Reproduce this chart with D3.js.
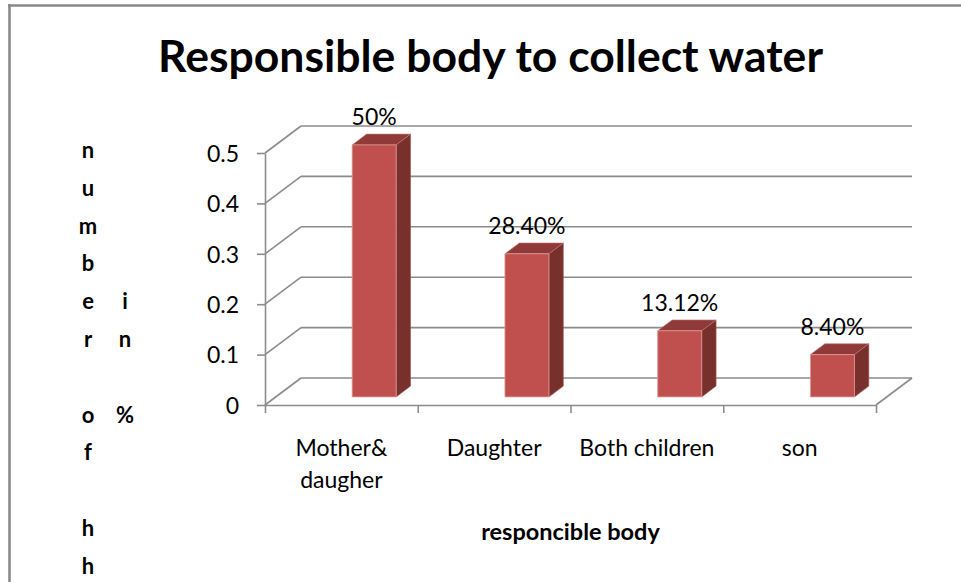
<!DOCTYPE html>
<html>
<head>
<meta charset="utf-8">
<script src="https://cdn.jsdelivr.net/npm/d3@7"></script>
<style>
  html, body { margin: 0; padding: 0; background: #fff; }
  svg { display: block; font-family: Lato, "Open Sans", sans-serif; }
</style>
</head>
<body>
<svg id="chart" width="961" height="582"></svg>
<script>
// ---- data ----
const categories = ["Mother&\ndaugher", "Daughter", "Both children", "son"];
const values = [0.5, 0.284, 0.1312, 0.084];
const valueLabels = ["50%", "28.40%", "13.12%", "8.40%"];
const yTicks = [0, 0.1, 0.2, 0.3, 0.4, 0.5];
const yTickLabels = ["0", "0.1", "0.2", "0.3", "0.4", "0.5"];
const titleText = "Responsible body to collect water";
const xTitleText = "responcible body";
const yTitleCol1 = "number of hh";
const yTitleCol2 = "in %";

// ---- layout ----
const svg = d3.select("#chart");
const X0 = 265, X1 = 876;           // front edge of the floor
const Y0 = 405, Ytop = 153;         // front plane: value 0 and 0.5
const DX = 36, DY = -27;            // depth offset to the back wall
const Z_FRONT = 0.3, Z_BACK = 0.7;  // depth span occupied by the columns
const gridColor = "#8c8c8c";

const x = d3.scaleBand().domain(categories).range([X0, X1]);
const xEdge = d3.scaleLinear().domain([0, categories.length]).range([X0, X1]);
const y = d3.scaleLinear().domain([0, 0.5]).range([Y0, Ytop]);
const proj = (xa, v, z) => [xa + z * DX, y(v) + z * DY];

// chart frame
svg.append("line").attr("x1", 9.5).attr("x2", 9.5).attr("y1", 4).attr("y2", 582)
  .attr("stroke", "#8a8a8a").attr("stroke-width", 2.6);
svg.append("line").attr("x1", 8).attr("x2", 961).attr("y1", 5.5).attr("y2", 5.5)
  .attr("stroke", "#8a8a8a").attr("stroke-width", 2.6);

// title, sized to span its box
const title = svg.append("text")
  .attr("x", 490.5).attr("y", 72).attr("text-anchor", "middle")
  .attr("font-weight", 700).attr("font-size", 40).attr("fill", "#000")
  .text(titleText);
const tl = title.node().getComputedTextLength();
title.attr("font-size", 40 * 665 / tl);

// ---- walls and floor ----
const grid = svg.append("g").attr("fill", "none").attr("stroke", gridColor).attr("stroke-width", 1.6);
// back wall gridlines
grid.selectAll("line.back").data(yTicks).join("line").attr("class", "back")
  .attr("x1", d => proj(X0, d, 1)[0]).attr("y1", d => proj(X0, d, 1)[1])
  .attr("x2", d => proj(X1, d, 1)[0]).attr("y2", d => proj(X1, d, 1)[1]);
// side wall gridlines
grid.selectAll("line.side").data(yTicks).join("line").attr("class", "side")
  .attr("x1", d => proj(X0, d, 0)[0]).attr("y1", d => proj(X0, d, 0)[1])
  .attr("x2", d => proj(X0, d, 1)[0]).attr("y2", d => proj(X0, d, 1)[1]);
// floor right edge
grid.append("line")
  .attr("x1", proj(X1, 0, 0)[0]).attr("y1", proj(X1, 0, 0)[1])
  .attr("x2", proj(X1, 0, 1)[0]).attr("y2", proj(X1, 0, 1)[1]);

// ---- axes ----
const labelSize = 23;
const yAxis = svg.append("g").attr("transform", `translate(${X0},0)`)
  .call(d3.axisLeft(y).tickValues(yTicks).tickFormat((d, i) => yTickLabels[i])
    .tickSize(8).tickSizeOuter(0).tickPadding(18));
yAxis.select(".domain").attr("stroke", gridColor).attr("stroke-width", 1.6);
yAxis.selectAll(".tick line").attr("stroke", gridColor).attr("stroke-width", 1.6);
yAxis.selectAll(".tick text").attr("font-size", labelSize).attr("fill", "#000")
  .attr("font-family", "Lato, sans-serif").attr("dy", "0.36em");

const xAxis = svg.append("g").attr("transform", `translate(0,${Y0})`)
  .call(d3.axisBottom(xEdge).tickValues(d3.range(categories.length + 1))
    .tickFormat("").tickSize(8).tickSizeOuter(0));
xAxis.select(".domain").attr("stroke", gridColor).attr("stroke-width", 1.6);
xAxis.selectAll(".tick line").attr("stroke", gridColor).attr("stroke-width", 1.6);

// category labels
const cat = svg.append("g").attr("font-size", labelSize).attr("fill", "#000").attr("text-anchor", "middle");
categories.forEach(c => {
  const t = cat.append("text").attr("x", x(c) + x.bandwidth() / 2).attr("y", 456);
  c.split("\n").forEach((line, i) => {
    t.append("tspan").attr("x", x(c) + x.bandwidth() / 2).attr("dy", i === 0 ? 0 : 32).text(line);
  });
});

// axis titles
svg.append("text").attr("x", (X0 + X1) / 2).attr("y", 540).attr("text-anchor", "middle")
  .attr("font-weight", 700).attr("font-size", 23.5).text(xTitleText);

const rowStep = 37.8, rowBase = 158;
const col1 = Array.from(yTitleCol1);
const col2 = Array.from(yTitleCol2);
const col2Start = Math.floor((col1.length - col2.length) / 2);
const yt = svg.append("g").attr("font-weight", 700).attr("font-size", 22).attr("text-anchor", "middle");
yt.selectAll("text.c1").data(col1).join("text").attr("class", "c1")
  .attr("x", 88).attr("y", (d, i) => rowBase + i * rowStep).text(d => d);
yt.selectAll("text.c2").data(col2).join("text").attr("class", "c2")
  .attr("x", 125).attr("y", (d, i) => rowBase + (i + col2Start) * rowStep).text(d => d);

// ---- columns ----
const barFrac = 44 / x.bandwidth();
const bars = svg.append("g");
categories.forEach((c, i) => {
  const v = values[i];
  const xl = x(c) + x.bandwidth() / 2;
  const xr = xl + x.bandwidth() * barFrac;
  const pts = (arr) => arr.map(p => p.join(",")).join(" ");
  const fBL = proj(xl, 0, Z_FRONT), fBR = proj(xr, 0, Z_FRONT);
  const fTL = proj(xl, v, Z_FRONT), fTR = proj(xr, v, Z_FRONT);
  const bBR = proj(xr, 0, Z_BACK), bTL = proj(xl, v, Z_BACK), bTR = proj(xr, v, Z_BACK);
  // side face
  bars.append("polygon").attr("points", pts([fBR, fTR, bTR, bBR]))
    .attr("fill", "#78302d").attr("stroke", "#a35a57").attr("stroke-width", 0.6);
  // top face
  bars.append("polygon").attr("points", pts([fTL, fTR, bTR, bTL]))
    .attr("fill", "#8f3a38").attr("stroke", "#c07a77").attr("stroke-width", 0.6);
  // front face
  bars.append("polygon").attr("points", pts([fBL, fBR, fTR, fTL]))
    .attr("fill", "#c0504d").attr("stroke", "#e09a98").attr("stroke-width", 0.8);
  // value label
  svg.append("text").attr("x", (fTL[0] + fTR[0]) / 2).attr("y", bTL[1] - 9)
    .attr("text-anchor", "middle").attr("font-size", labelSize).attr("fill", "#000")
    .text(valueLabels[i]);
});
</script>
</body>
</html>
